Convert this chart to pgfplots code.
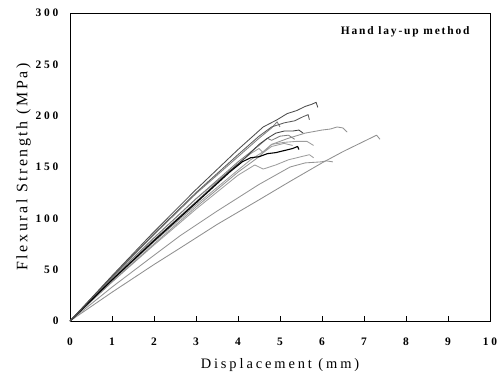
\documentclass[border=0pt]{standalone}
\usepackage{fontspec}
\setmainfont{Liberation Serif}
\usepackage{pgfplots}
\pgfplotsset{compat=1.18}
\newfontfamily\tickfont[LetterSpace=25]{Liberation Serif}
\newfontfamily\labfont[LetterSpace=16]{Liberation Serif}
\newfontfamily\xlabfont[LetterSpace=20]{Liberation Serif}
\definecolor{g1}{gray}{0.3}
\definecolor{g2}{gray}{0.36}
\definecolor{g3}{gray}{0.25}
\definecolor{g4}{gray}{0.5}
\definecolor{g5}{gray}{0.58}
\definecolor{g6}{gray}{0.62}
\definecolor{g7}{gray}{0.56}
\begin{document}
\begin{tikzpicture}
\begin{axis}[
  scale only axis,
  width=420bp, height=308bp,
  xmin=0, xmax=10, ymin=0, ymax=300,
  xtick={0,1,...,10}, ytick={0,50,...,300},
  xtick pos=bottom, ytick pos=left,
  tick align=inside,
  major tick length=5bp,
  ytick style={draw=none},
  axis line style={line width=0.9bp},
  tick style={line width=0.8bp, black},
  /pgf/number format/assume math mode=true,
  xticklabel style={font=\tickfont\fontsize{11.5}{13}\selectfont\bfseries, yshift=-13bp},
  yticklabel style={font=\tickfont\fontsize{11.5}{13}\selectfont\bfseries, xshift=-8bp},
  xlabel={Displacement (mm)},
  ylabel={Flexural Strength (MPa)},
  xlabel style={font=\xlabfont\fontsize{14.5}{16}\selectfont, yshift=-6bp},
  ylabel style={font=\labfont\fontsize{16}{18}\selectfont, yshift=-2bp},
  every axis plot/.append style={line width=0.85bp, line join=round},
  clip=true,
]
\coordinate (bl) at (rel axis cs:0,0);
\coordinate (tr) at (rel axis cs:1,1);
% lower-slope specimens
\addplot[g7] coordinates {(0,0)(1,28)(2,55)(2.62,71)(3.5,94)(4.5,118)(5.24,136)(6,154)(6.5,165)(7,175)(7.15,178)(7.3,181)(7.38,177)};
\addplot[g5] coordinates {(0,0)(1,33)(2,64)(2.62,83)(3.5,107)(4.5,133)(5.24,150)(5.6,154)(5.98,155)(6.1,156)(6.26,155)};
% gray specimens
\addplot[g6] coordinates {(0,0)(1,38)(2,74)(3,109)(4,142)(4.4,152)(4.6,148)(4.9,152)(5.2,157)(5.5,160)(5.7,162)(5.8,159)};
\addplot[g5] coordinates {(0,0)(1,38)(2,75)(3,111)(4,145)(4.5,160)(4.8,172)(5.2,178)(5.6,183)(6.0,186)(6.2,187)(6.36,189)(6.5,188)(6.6,184)};
\addplot[g6] coordinates {(0,0)(1,39)(2,77)(3,113)(4,147)(4.3,157)(4.6,165)(4.8,172)(5.1,174)(5.4,175)(5.64,175)(5.8,171)};
\addplot[g6] coordinates {(0,0)(1,41)(2,81)(3,119)(4,153)(4.3,163)(4.5,168)(4.6,164)(4.8,170)(5.1,173)(5.3,171)};
\addplot[g4] coordinates {(0,0)(1,42)(2,81)(3,119)(4,155)(4.5,171)(4.7,178)(4.8,176)(5.0,180)(5.2,181)(5.35,177)};
\addplot[g4] coordinates {(0,0)(1,43)(2,84)(3,124)(4,160)(4.5,178)(4.8,188)(4.93,194)(5.0,189)};
% dark specimens
\addplot[g3] coordinates {(0,0)(1,40)(2,79)(3,116)(3.8,146)(4.2,160)(4.5,172)(4.7,178)(4.9,183)(5.1,185)(5.3,185)(5.45,186)(5.55,183)};
\addplot[black, line width=1.1bp] coordinates {(0,0)(1,40)(2,78)(3,115)(3.8,145)(4.1,155)(4.3,159)(4.5,160)(4.7,163)(4.9,164)(5.1,166)(5.3,168)(5.42,170)(5.45,167)};
\addplot[g2] coordinates {(0,0)(1,43)(2,85)(3,125)(4,162)(4.5,180)(4.8,189)(5.1,193)(5.35,195)(5.55,199)(5.67,201)(5.7,196)};
\addplot[g1] coordinates {(0,0)(1,44)(2,87)(3,128)(4,167)(4.6,189)(4.93,196)(5.17,202)(5.4,205)(5.6,209)(5.75,211)(5.86,213)(5.9,208)};
\node[font=\labfont\fontsize{11.5}{13}\selectfont\bfseries] at (axis cs:7.98,281.5) {Hand lay-up method};
\end{axis}
\pgfresetboundingbox
\path[use as bounding box] ([shift={(-70bp,-53bp)}]bl) rectangle ([shift={(14bp,13bp)}]tr);
\end{tikzpicture}
\end{document}
